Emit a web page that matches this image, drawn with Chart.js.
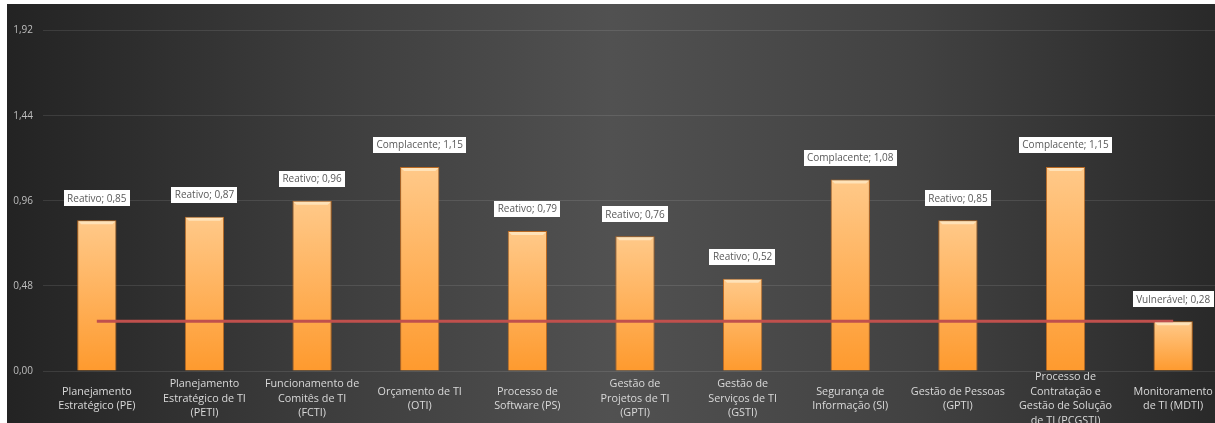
<!DOCTYPE html>
<html>
<head>
<meta charset="utf-8">
<script src="https://cdn.jsdelivr.net/npm/chart.js@4.4.1/dist/chart.umd.min.js"></script>
<style>
    html, body { margin: 0; padding: 0; background: #fff; overflow: hidden; }
    #wrap { position: absolute; left: 7px; top: 4px; width: 1225px; height: 419px; }
</style>
</head>
<body>
<div id="wrap"><canvas id="chart"></canvas></div>
<script>
const categories = [
    ['Planejamento', 'Estratégico (PE)'],
    ['Planejamento', 'Estratégico de TI', '(PETI)'],
    ['Funcionamento de', 'Comitês de TI', '(FCTI)'],
    ['Orçamento de TI', '(OTI)'],
    ['Processo de', 'Software (PS)'],
    ['Gestão de', 'Projetos de TI', '(GPTI)'],
    ['Gestão de', 'Serviços de TI', '(GSTI)'],
    ['Segurança de', 'Informação (SI)'],
    ['Gestão de Pessoas', '(GPTI)'],
    ['Processo de', 'Contratação e', 'Gestão de Solução', 'de TI (PCGSTI)'],
    ['Monitoramento', 'de TI (MDTI)']
];
const levels = ['Reativo', 'Reativo', 'Reativo', 'Complacente', 'Reativo', 'Reativo',
    'Reativo', 'Complacente', 'Reativo', 'Complacente', 'Vulnerável'];
const scores = [0.85, 0.87, 0.96, 1.15, 0.79, 0.76, 0.52, 1.08, 0.85, 1.15, 0.28];
const threshold = [0.28, 0.28, 0.28, 0.28, 0.28, 0.28, 0.28, 0.28, 0.28, 0.28, 0.28];
const yTicks = [0, 0.48, 0.96, 1.44, 1.92];
const yMax = 2.07;

const fmt = v => v.toFixed(2).replace('.', ',');

// dark backdrop, lighter in the middle
const backdrop = {
    id: 'backdrop',
    beforeDraw(chart) {
        const { ctx, width, height } = chart;
        const g = ctx.createLinearGradient(0, 0, 1208, 0);
        g.addColorStop(0, '#232323');
        g.addColorStop(0.25, '#3c3c3c');
        g.addColorStop(0.5, '#515151');
        g.addColorStop(0.75, '#424242');
        g.addColorStop(1, '#292929');
        ctx.save();
        ctx.fillStyle = g;
        ctx.fillRect(0, 0, width, height);
        ctx.restore();
    }
};

// light bevel on top of each bar + white boxes "Nível; valor"
const levelLabels = {
    id: 'levelLabels',
    afterDatasetsDraw(chart) {
        const ctx = chart.ctx;
        const meta = chart.getDatasetMeta(1);
        ctx.save();
        meta.data.forEach(bar => {
            const half = bar.width / 2;
            ctx.fillStyle = 'rgba(255, 235, 200, 0.75)';
            ctx.beginPath();
            ctx.moveTo(bar.x - half + 1, bar.y + 1);
            ctx.lineTo(bar.x + half - 1, bar.y + 1);
            ctx.lineTo(bar.x + half - 4, bar.y + 4);
            ctx.lineTo(bar.x - half + 4, bar.y + 4);
            ctx.closePath();
            ctx.fill();
        });
        ctx.font = '10px "Open Sans"';
        ctx.textAlign = 'center';
        ctx.textBaseline = 'middle';
        meta.data.forEach((bar, i) => {
            const text = levels[i] + '; ' + fmt(scores[i]);
            const w = ctx.measureText(text).width + 7;
            const cy = bar.y - 22;
            ctx.fillStyle = '#ffffff';
            ctx.fillRect(Math.round(bar.x - w / 2), Math.round(cy - 8), Math.round(w), 16);
            ctx.fillStyle = '#595959';
            ctx.fillText(text, bar.x, cy + 0.5);
        });
        ctx.restore();
    }
};

function barFill(context) {
    const chart = context.chart;
    const y = chart.scales.y;
    if (!y || context.dataIndex === undefined) return '#ffa640';
    const top = y.getPixelForValue(scores[context.dataIndex]);
    const bottom = y.getPixelForValue(0);
    if (!isFinite(top) || !isFinite(bottom) || top === bottom) return '#ffa640';
    const g = chart.ctx.createLinearGradient(0, top, 0, bottom);
    g.addColorStop(0, '#ffc989');
    g.addColorStop(1, '#fe9a2e');
    return g;
}

new Chart(document.getElementById('chart'), {
    data: {
        labels: categories,
        datasets: [
            {
                type: 'line',
                data: threshold,
                borderColor: '#c0504d',
                borderWidth: 3,
                pointRadius: 0,
                order: 0
            },
            {
                type: 'bar',
                data: scores,
                backgroundColor: barFill,
                borderColor: 'rgba(200, 110, 30, 0.9)',
                borderWidth: 1,
                categoryPercentage: 1,
                barPercentage: 0.365,
                order: 1
            }
        ]
    },
    options: {
        responsive: true,
        maintainAspectRatio: false,
        animation: false,
        layout: { padding: { top: 0, right: 5, bottom: 0, left: 0 } },
        plugins: {
            legend: { display: false },
            tooltip: { enabled: false }
        },
        scales: {
            x: {
                grid: { display: false },
                border: { display: false },
                ticks: {
                    color: '#d9d9d9',
                    font: { family: '"Open Sans"', size: 10.8, lineHeight: '14.5px' },
                    crossAlign: 'center',
                    padding: -2,
                    maxRotation: 0,
                    autoSkip: false
                },
                afterFit(scale) { scale.height = 52; }
            },
            y: {
                min: 0,
                max: yMax,
                grid: { color: 'rgba(255, 255, 255, 0.1)', drawTicks: false },
                border: { display: false },
                ticks: {
                    color: '#bfbfbf',
                    font: { family: '"Open Sans"', size: 10 },
                    padding: 10,
                    callback: v => fmt(v)
                },
                afterBuildTicks(scale) { scale.ticks = yTicks.map(v => ({ value: v })); },
                afterFit(scale) {
                    scale.width = 36;
                    scale.paddingTop = 0;
                    scale.paddingBottom = 0;
                }
            }
        }
    },
    plugins: [backdrop, levelLabels]
});
</script>
</body>
</html>
